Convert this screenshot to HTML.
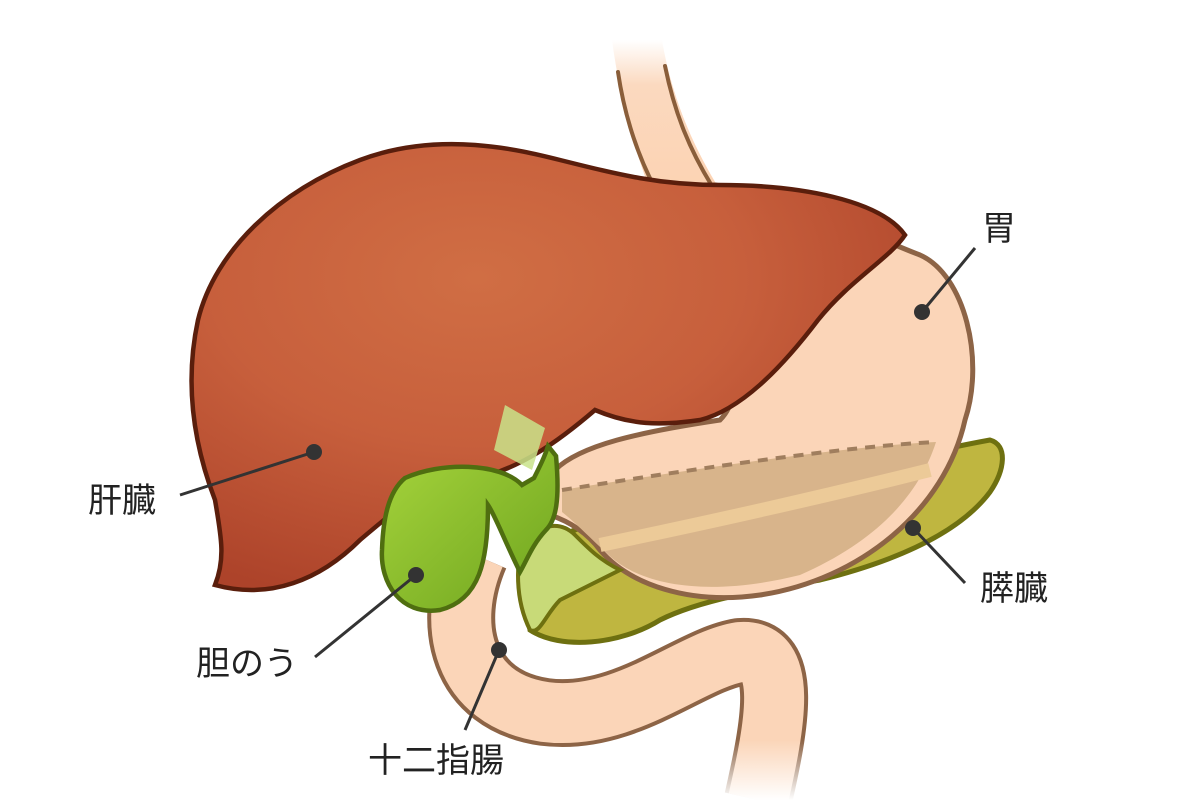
<!DOCTYPE html>
<html><head><meta charset="utf-8"><style>
html,body{margin:0;padding:0;background:#fff;width:1200px;height:800px;overflow:hidden}
text{font-family:"Liberation Sans","Noto Sans CJK JP",sans-serif;font-size:34px;fill:#222}
</style></head><body>
<svg width="1200" height="800" viewBox="0 0 1200 800" xmlns="http://www.w3.org/2000/svg">
<defs>
<radialGradient id="liv" cx="0.4" cy="0.3" r="0.75">
<stop offset="0" stop-color="#d06e44"/><stop offset="0.5" stop-color="#c75f3c"/><stop offset="1" stop-color="#ad432a"/></radialGradient>
<linearGradient id="gb" x1="0" y1="0" x2="1" y2="1">
<stop offset="0" stop-color="#a6d43c"/><stop offset="1" stop-color="#6ea41e"/></linearGradient>
<linearGradient id="eso" x1="0" y1="0" x2="0" y2="1">
<stop offset="0" stop-color="#fff"/><stop offset="0.3" stop-color="#fbd9bf"/><stop offset="1" stop-color="#fcd3b3"/></linearGradient>
<linearGradient id="fadeB" x1="0" y1="0" x2="0" y2="1">
<stop offset="0" stop-color="#fff" stop-opacity="0"/><stop offset="1" stop-color="#fff" stop-opacity="1"/></linearGradient>
</defs>
<!-- esophagus -->
<path d="M612,40 C620,100 635,150 650,190 L720,190 C695,150 672,100 662,40 Z" fill="url(#eso)"/>
<path d="M618,72 C625,120 640,160 655,188" fill="none" stroke="#8a5e3a" stroke-width="4" stroke-linecap="round"/>
<path d="M665,66 C675,115 690,150 712,186" fill="none" stroke="#8a5e3a" stroke-width="4" stroke-linecap="round"/>
<!-- duodenum -->
<path d="M475,555 C445,625 462,700 545,712 C625,722 690,660 740,652 C790,648 775,725 758,800" fill="none" stroke="#8d6446" stroke-width="68"/>
<path d="M475,555 C445,625 462,700 545,712 C625,722 690,660 740,652 C790,648 775,725 758,800" fill="none" stroke="#fbd5b8" stroke-width="60"/>
<rect x="700" y="740" width="120" height="60" fill="url(#fadeB)"/>
<!-- pancreas -->
<path d="M520,560 C560,530 600,520 640,515 C750,500 880,460 990,440 C1008,445 1005,470 990,492 C960,532 900,560 820,580 C760,590 700,600 660,620 C620,645 560,650 530,630 Z" fill="#bfb640" stroke="#6e7010" stroke-width="5"/>
<!-- stomach -->
<path d="M650,185 L715,185 C800,200 880,240 920,255 C965,275 985,360 965,420 C945,510 860,580 760,595 C690,605 630,585 600,550 C585,530 565,520 550,515 L555,470 C580,445 640,432 720,420 C760,380 700,300 650,185 Z" fill="#fbd5b8" stroke="#8d6446" stroke-width="5"/>
<path d="M562,490 C700,468 850,446 936,442 C920,492 880,540 800,575 C720,595 650,590 612,558 C592,540 575,522 562,512 Z" fill="#d8b48b"/>
<path d="M562,490 C700,468 850,446 936,442" fill="none" stroke="#a07e5e" stroke-width="4" stroke-dasharray="10,8"/>
<path d="M600,545 C720,520 830,495 930,470" fill="none" stroke="#ecca98" stroke-width="14"/>
<!-- pancreas head -->
<path d="M525,540 C540,525 560,520 575,535 C590,550 600,560 620,570 L560,600 C545,615 540,635 530,630 C515,600 515,560 525,540 Z" fill="#c8da78" stroke="#6e7010" stroke-width="4"/>
<!-- liver -->
<path d="M215,585 C225,560 222,540 215,500 C192,440 185,380 198,320 C215,250 280,190 360,160 C440,130 520,150 560,160 C620,175 660,185 720,185 C800,185 880,200 905,235 C890,258 850,280 818,320 C780,370 740,410 700,420 C660,426 630,425 595,410 C560,440 520,470 470,480 C420,486 390,515 360,540 C320,580 270,600 215,585 Z" fill="url(#liv)" stroke="#5a1e0c" stroke-width="4.5"/>
<!-- bile duct -->
<path d="M505,405 L545,428 L532,470 L494,450 Z" fill="#c9e38a" opacity="0.85"/>
<!-- gallbladder -->
<path d="M405,478 C440,462 500,462 522,485 L534,478 C540,466 545,456 548,446 L556,456 C560,500 556,520 546,530 C532,545 527,560 520,572 C505,542 495,515 488,505 C488,560 480,600 440,610 C400,616 380,582 382,550 C383,520 388,492 405,478 Z" fill="url(#gb)" stroke="#4f6e10" stroke-width="4.5"/>
<!-- pointer lines -->
<g stroke="#333" stroke-width="3" fill="#333">
<line x1="922" y1="312" x2="975" y2="248"/><circle cx="922" cy="312" r="8" stroke="none"/>
<line x1="314" y1="452" x2="180" y2="495"/><circle cx="314" cy="452" r="8" stroke="none"/>
<line x1="913" y1="528" x2="965" y2="583"/><circle cx="913" cy="528" r="8" stroke="none"/>
<line x1="416" y1="575" x2="315" y2="657"/><circle cx="416" cy="575" r="8" stroke="none"/>
<line x1="499" y1="650" x2="465" y2="730"/><circle cx="499" cy="650" r="8" stroke="none"/>
</g>
<text x="982" y="240">胃</text>
<text x="88" y="512">肝臓</text>
<text x="980" y="600">膵臓</text>
<text x="196" y="675">胆のう</text>
<text x="368" y="772">十二指腸</text>
</svg>
</body></html>
